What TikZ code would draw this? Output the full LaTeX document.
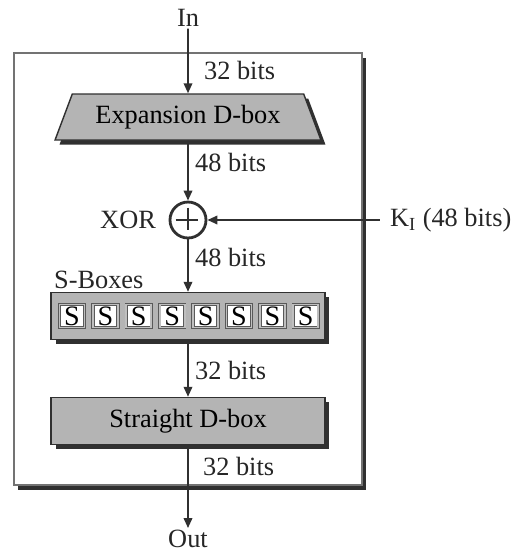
\documentclass[tikz,border=0pt]{standalone}
\usepackage{fontspec}
\setmainfont{Liberation Serif}
\usetikzlibrary{shapes.geometric, arrows.meta, shadows, positioning}
\definecolor{boxgray}{HTML}{B4B4B4}
\definecolor{inkgray}{HTML}{303030}

\begin{document}
\begin{tikzpicture}[x=0.02cm, y=-0.02cm,
	font=\fontsize{15}{18}\selectfont,
	>={Triangle[length=0.2cm, width=0.17cm]},
	flow/.style={->, line width=1.1pt, draw=inkgray},
	hardshadow/.style={drop shadow={shadow xshift=0.09cm, shadow yshift=-0.09cm, fill=inkgray, opacity=1}},
	graybox/.style={draw=inkgray, line width=0.8pt, fill=boxgray, hardshadow, inner sep=0pt},
	sbox/.style={draw=black!65, double=black!25, double distance=1.1pt, fill=white, minimum width=0.5cm, minimum height=0.46cm, inner sep=0pt},
	lbl/.style={inner sep=1pt, text=black!85}]
	\useasboundingbox (0,0) rectangle (511,556);

	% frame of the round function
	\draw[draw=black!55, line width=0.9pt, fill=white, hardshadow] (14,53) rectangle (362,485);

	\draw (188,18) node[lbl] (in) {In}
	(188,117) node[graybox, trapezium, trapezium stretches=true, trapezium angle=60, minimum width=5.32cm, minimum height=0.92cm] (exp) {Expansion D-box}
	(188,220) node[draw=inkgray, line width=1.6pt, circle, fill=white, minimum size=0.72cm, inner sep=0pt] (xor) {}
	(158,220) node[lbl, anchor=east] (xorl) {XOR}
	(380,220) coordinate (kin)
	(388,220) node[lbl, anchor=west] (kl) {K\textsubscript{I} (48 bits)}
	(188,316) node[graybox, minimum width=5.48cm, minimum height=0.94cm] (sbx) {}
	(52,280) node[lbl, anchor=west] (sbl) {S-Boxes}
	(188,421) node[graybox, minimum width=5.48cm, minimum height=0.94cm] (st) {Straight D-box}
	(188,539) node[lbl] (out) {Out};

	% plus sign of the XOR
	\draw[line width=1.6pt, draw=inkgray] (xor.north) ++(0,7) -- ++(0,22) (xor.west) ++(7,0) -- ++(22,0);

	\foreach \i in {0,...,7}
		\node[sbox, font=\fontsize{16}{18}\selectfont] (s\i) at (72+33.4*\i,316) {S};

	\draw[flow] (in) -- (exp);
	\draw[flow] (exp) -- (xor);
	\draw[flow] (kin) -- (xor);
	\draw[flow] (xor) -- (sbx);
	\draw[flow] (sbx) -- (st);
	\draw[flow] (st) -- (out);

	\draw (202,70) node[lbl, anchor=west] (b1) {32 bits}
	(193,162) node[lbl, anchor=west] (b2) {48 bits}
	(193,257) node[lbl, anchor=west] (b3) {48 bits}
	(193,370) node[lbl, anchor=west] (b4) {32 bits}
	(201,466) node[lbl, anchor=west] (b5) {32 bits};
\end{tikzpicture}
\end{document}
